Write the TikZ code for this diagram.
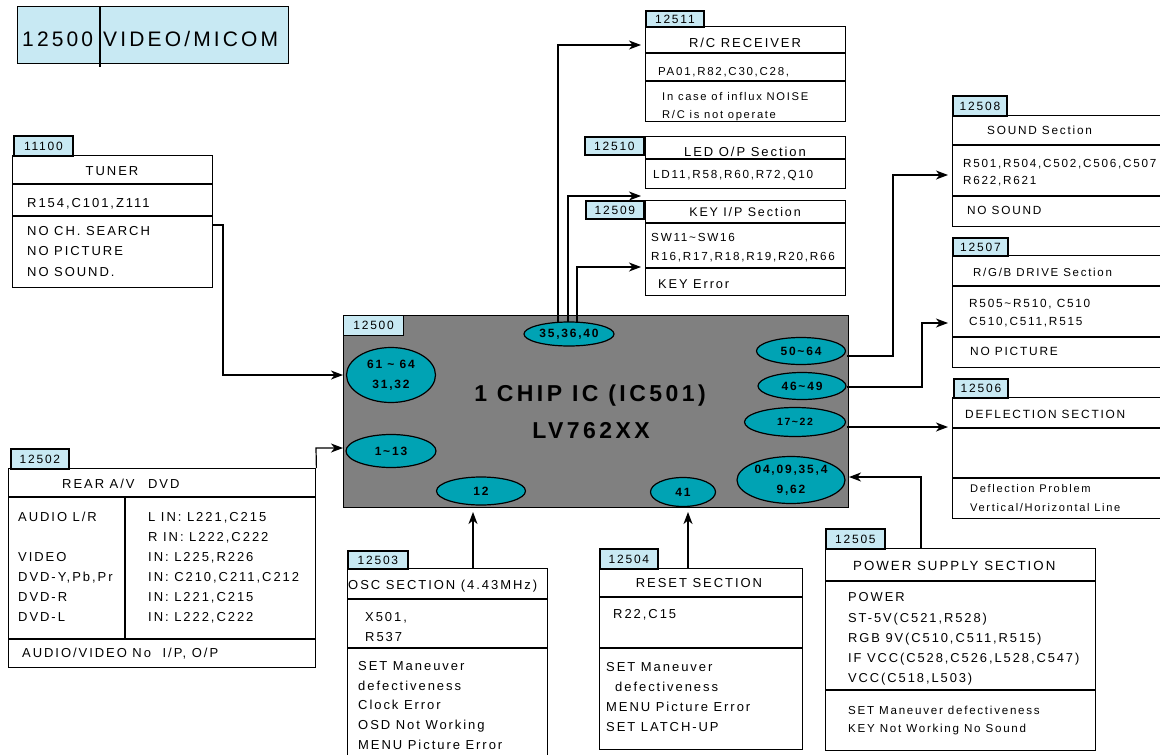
\documentclass[tikz,border=0pt]{standalone}
\usepackage{fontspec}
\setmainfont{Liberation Sans}[LetterSpace=15]
\usetikzlibrary{shapes.geometric,arrows.meta}
\definecolor{tagblue}{RGB}{200,233,243}
\definecolor{ellteal}{RGB}{0,163,180}
\definecolor{icgray}{RGB}{128,128,128}
\newcommand\fsz[1]{\fontsize{#1}{#1}\selectfont}
\begin{document}
\begin{tikzpicture}[x=1pt,y=-1pt,
  bx/.style={draw, line width=1.4pt, fill=white, inner sep=0pt, anchor=north west},
  tagbx/.style={draw, line width=1.8pt, fill=tagblue, inner sep=0pt, anchor=north west, font=\fsz{12}},
  ell/.style={ellipse, draw, line width=1.2pt, fill=ellteal, inner sep=0pt, align=center, font=\bfseries\fontsize{12}{20}\selectfont},
  tx/.style={anchor=base west, inner sep=0pt, font=\fsz{#1}, yshift={-0.358*#1pt}},
  txc/.style={anchor=base, inner sep=0pt, font=\fsz{#1}, yshift={-0.358*#1pt}},
  sep/.style={line width=1.4pt},
  conn/.style={line width=1.2pt},
  arr/.style={conn, -{Stealth[length=12pt,width=9pt,inset=3.5pt]}}]
\useasboundingbox (0,0) rectangle (1160,755);

% title
\node[draw, line width=1.4pt, fill=tagblue, inner sep=0pt, anchor=north west, minimum width=271pt, minimum height=57pt] (title) at (17,6) {};
\draw[sep] (100,6) -- (100,67);
\node[tx=21] (ttl1) at (22,39) {12500};
\node[tx=21] (ttl2) at (103,39) {VIDEO/MICOM};

% tuner
\node[bx, minimum width=200pt, minimum height=132pt] (tuner) at (12,155) {};
\node[tagbx, minimum width=59pt, minimum height=20pt] (tg11100) at (13,135) {11100};
\draw[sep] (12,184) -- (212,184);
\draw[sep] (12,216) -- (212,216);
\node[txc=13] (tu1) at (112,171) {TUNER};
\node[tx=13] (tu2) at (27,203) {R154,C101,Z111};
\node[tx=13] (tu3) at (27,231) {NO CH. SEARCH};
\node[tx=13] (tu4) at (27,251) {NO PICTURE};
\node[tx=13] (tu5) at (27,272) {NO SOUND.};

% rear A/V
\node[bx, minimum width=307pt, minimum height=199pt] (rear) at (8,468) {};
\node[tagbx, minimum width=58pt, minimum height=20pt] (tg12502) at (10,448) {12502};
\draw[sep] (8,497) -- (315,497);
\draw[sep] (8,639) -- (315,639);
\draw[sep] (125,497) -- (125,639);
\node[tx=13] (ra0) at (62,484) {REAR A/V\hspace{8pt} DVD};
\node[tx=13] (ra1) at (18,517) {AUDIO L/R};
\node[tx=13] (ra2) at (18,557) {VIDEO};
\node[tx=13] (ra3) at (18,577) {DVD-Y,Pb,Pr};
\node[tx=13] (ra4) at (18,597) {DVD-R};
\node[tx=13] (ra5) at (18,617) {DVD-L};
\node[tx=13] (rb1) at (148,517) {L IN: L221,C215};
\node[tx=13] (rb2) at (148,537) {R IN: L222,C222};
\node[tx=13] (rb3) at (148,557) {IN: L225,R226};
\node[tx=13] (rb4) at (148,577) {IN: C210,C211,C212};
\node[tx=13] (rb5) at (148,597) {IN: L221,C215};
\node[tx=13] (rb6) at (148,617) {IN: L222,C222};
\node[tx=13] (rc7) at (22,653) {AUDIO/VIDEO No\hspace{6pt} I/P, O/P};

% R/C receiver
\node[bx, minimum width=200pt, minimum height=95pt] (rc) at (645,26) {};
\node[tagbx, minimum width=58pt, minimum height=16pt] (tg12511) at (645,10) {12511};
\draw[sep] (645,53) -- (845,53);
\draw[sep] (645,81) -- (845,81);
\node[txc=13] (rc1) at (745,43) {R/C RECEIVER};
\node[tx=11.5] (rc2) at (658,71) {PA01,R82,C30,C28,};
\node[tx=11.2] (rc3) at (662,96) {In case of influx NOISE};
\node[tx=11.2] (rc4) at (662,114) {R/C is not operate};

% LED
\node[bx, minimum width=200pt, minimum height=52pt] (led) at (645,136) {};
\node[tagbx, minimum width=59pt, minimum height=18pt] (tg12510) at (584,136) {12510};
\draw[sep] (645,159) -- (845,159);
\node[txc=13] (le1) at (745,152) {LED O/P Section};
\node[tx=11.7] (le2) at (653,174) {LD11,R58,R60,R72,Q10};

% KEY
\node[bx, minimum width=200pt, minimum height=95pt] (key) at (645,200) {};
\node[tagbx, minimum width=58pt, minimum height=18pt] (tg12509) at (585,200) {12509};
\draw[sep] (645,223) -- (845,223);
\draw[sep] (645,268) -- (845,268);
\node[txc=12.5] (ke1) at (745,212) {KEY I/P Section};
\node[tx=11.7] (ke2) at (651,237) {SW11\textasciitilde SW16};
\node[tx=11.7] (ke3) at (651,256) {R16,R17,R18,R19,R20,R66};
\node[tx=12.8] (ke4) at (658,284) {KEY Error};

% SOUND
\node[bx, minimum width=220pt, minimum height=111pt] (sound) at (952,115) {};
\node[tagbx, minimum width=54pt, minimum height=20pt] (tg12508) at (952,95) {12508};
\draw[sep] (952,145) -- (1172,145);
\draw[sep] (952,196) -- (1172,196);
\node[tx=11.8] (so1) at (987,130) {SOUND Section};
\node[tx=11.7] (so2) at (963,163) {R501,R504,C502,C506,C507};
\node[tx=11.7] (so3) at (963,180) {R622,R621};
\node[tx=11.8] (so4) at (967,210) {NO SOUND};

% RGB
\node[bx, minimum width=220pt, minimum height=112pt] (rgb) at (952,255) {};
\node[tagbx, minimum width=55pt, minimum height=18pt] (tg12507) at (952,237) {12507};
\draw[sep] (952,286) -- (1172,286);
\draw[sep] (952,337) -- (1172,337);
\node[tx=11.5] (rg1) at (973,272) {R/G/B DRIVE Section};
\node[tx=11.8] (rg2) at (969,303) {R505\textasciitilde R510, C510};
\node[tx=11.8] (rg3) at (969,321) {C510,C511,R515};
\node[tx=11.9] (rg4) at (970,351) {NO PICTURE};

% DEFLECTION
\node[bx, minimum width=220pt, minimum height=121pt] (defl) at (952,397) {};
\node[tagbx, minimum width=54pt, minimum height=19pt] (tg12506) at (953,378) {12506};
\draw[sep] (952,428) -- (1172,428);
\draw[sep] (952,478) -- (1172,478);
\node[tx=11.9] (df1) at (965,414) {DEFLECTION SECTION};
\node[tx=11.1] (df2) at (970,489) {Deflection Problem};
\node[tx=11.1] (df3) at (970,508) {Vertical/Horizontal Line};

% OSC
\node[bx, minimum width=200pt, minimum height=210pt] (osc) at (347,568) {};
\node[tagbx, minimum width=60pt, minimum height=18pt] (tg12503) at (347,550) {12503};
\draw[sep] (347,599) -- (547,599);
\draw[sep] (347,648) -- (547,648);
\node[tx=13] (os1) at (348,585) {OSC SECTION (4.43MHz)};
\node[tx=13] (os2) at (365,617) {X501,};
\node[tx=13] (os3) at (365,637) {R537};
\node[tx=13] (os4) at (358,666) {SET Maneuver};
\node[tx=13] (os5) at (358,686) {defectiveness};
\node[tx=13] (os6) at (358,705) {Clock Error};
\node[tx=13] (os7) at (358,725) {OSD Not Working};
\node[tx=13] (os8) at (358,745) {MENU Picture Error};

% RESET
\node[bx, minimum width=203pt, minimum height=181pt] (reset) at (599,568) {};
\node[tagbx, minimum width=58pt, minimum height=20pt] (tg12504) at (599,548) {12504};
\draw[sep] (599,597) -- (802,597);
\draw[sep] (599,648) -- (802,648);
\node[txc=13] (rs1) at (699,583) {RESET SECTION};
\node[tx=13] (rs2) at (613,614) {R22,C15};
\node[tx=13] (rs3) at (606,667) {SET Maneuver};
\node[tx=13] (rs4) at (615,687) {defectiveness};
\node[tx=13] (rs5) at (606,707) {MENU Picture Error};
\node[tx=13] (rs6) at (606,727) {SET LATCH-UP};

% POWER
\node[bx, minimum width=270pt, minimum height=202pt] (power) at (825,548) {};
\node[tagbx, minimum width=59pt, minimum height=20pt] (tg12505) at (825,528) {12505};
\draw[sep] (825,581) -- (1095,581);
\draw[sep] (825,690) -- (1095,690);
\node[tx=13.3] (pw1) at (853,566) {POWER SUPPLY SECTION};
\node[tx=12.9] (pw2) at (848,597) {POWER};
\node[tx=12.9] (pw3) at (848,618) {ST-5V(C521,R528)};
\node[tx=12.9] (pw4) at (848,638) {RGB 9V(C510,C511,R515)};
\node[tx=12.9] (pw5) at (848,658) {IF VCC(C528,C526,L528,C547)};
\node[tx=12.9] (pw6) at (848,678) {VCC(C518,L503)};
\node[tx=11.6] (pw7) at (848,710) {SET Maneuver defectiveness};
\node[tx=11.6] (pw8) at (848,728) {KEY Not Working No Sound};

% IC
\node[draw, line width=1.4pt, fill=icgray, inner sep=0pt, anchor=north west, minimum width=505pt, minimum height=192pt] (ic) at (343,315) {};
\node[tagbx, line width=1.2pt, minimum width=60pt, minimum height=20pt] (tg12500) at (343,315) {12500};
\node[anchor=base, inner sep=0pt, font=\bfseries\fsz{23}, yshift=-8.2pt] (ict1) at (590,393) {1 CHIP IC (IC501)};
\node[anchor=base, inner sep=0pt, font=\bfseries\fsz{23}, yshift=-8.2pt] (ict2) at (591,430) {LV762XX};
\node[ell, minimum width=90pt, minimum height=24pt] (e35) at (569,334) {35,36,40};
\node[ell, minimum width=89pt, minimum height=55pt] (e61) at (391,375) {61 \textasciitilde{} 64\\31,32};
\node[ell, minimum width=90pt, minimum height=33pt] (e1) at (391,451) {1\textasciitilde 13};
\node[ell, minimum width=89pt, minimum height=28pt] (e12) at (481,491) {12};
\node[ell, minimum width=65pt, minimum height=29pt] (e41) at (683,492) {41};
\node[ell, minimum width=89pt, minimum height=27pt] (e50) at (801,351) {50\textasciitilde 64};
\node[ell, minimum width=88pt, minimum height=27pt] (e46) at (802,386) {46\textasciitilde 49};
\node[ell, minimum width=101pt, minimum height=29pt, font=\bfseries\fsz{10.5}] (e17) at (795,422) {17\textasciitilde 22};
\node[ell, minimum width=108pt, minimum height=47pt] (e04) at (791,480) {04,09,35,4\\9,62};

% connector end points
\coordinate (tuout) at (212,225);
\coordinate (rcin) at (641,45);
\coordinate (ledin) at (641,196);
\coordinate (keyin) at (641,267);
\coordinate (sndin) at (948,175);
\coordinate (rgbin) at (948,323);
\coordinate (dflin) at (948,427);
\coordinate (icb1) at (473,512);
\coordinate (icb2) at (688,512);
\coordinate (icr) at (849,477);
\coordinate (p1) at (558,323);
\coordinate (p2) at (568,322);
\coordinate (p3) at (577,323);
\coordinate (q50) at (847,356);
\coordinate (q46) at (847,387);
\coordinate (q17) at (847,427);
\coordinate (oscout) at (473,568);
\coordinate (rstout) at (688,568);
\coordinate (pwout) at (921,548);
\coordinate (icin1) at (343,375);
\coordinate (icin2) at (343,448);

% connectors
\draw[arr] (tuout) -- (223,225) -- (223,375) -- (icin1);
\draw[arr] (rear.north east) -- (316,448) -- (icin2);
\draw[arr] (p1) -- (558,45) -- (rcin);
\draw[arr] (p2) -- (568,196) -- (ledin);
\draw[arr] (p3) -- (577,267) -- (keyin);
\draw[arr] (q50) -- (893,356) -- (893,175) -- (sndin);
\draw[arr] (q46) -- (922,387) -- (922,323) -- (rgbin);
\draw[arr] (q17) -- (dflin);
\draw[arr] (oscout) -- (icb1);
\draw[arr] (rstout) -- (icb2);
\draw[arr] (pwout) -- (921,477) -- (icr);
\end{tikzpicture}
\end{document}
